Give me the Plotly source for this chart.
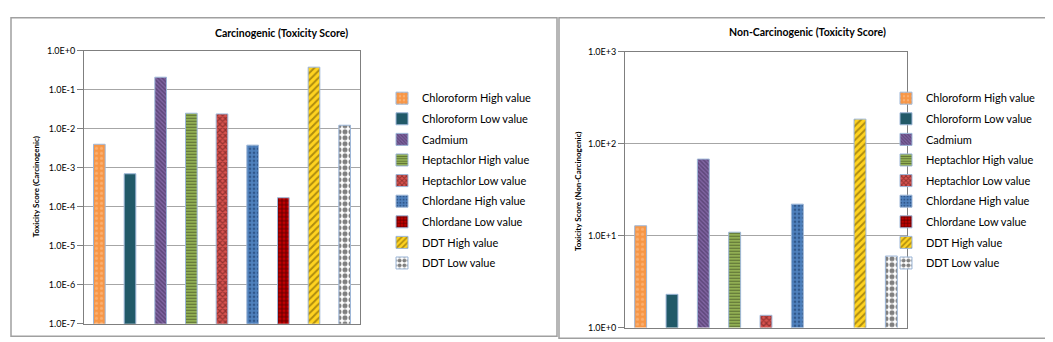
import plotly.graph_objects as go

W, H = 1053, 342

series_names = [
    "Chloroform High value", "Chloroform Low value", "Cadmium",
    "Heptachlor High value", "Heptachlor Low value", "Chlordane High value",
    "Chlordane Low value", "DDT High value", "DDT Low value",
]
carcinogenic = [4.0e-3, 7.0e-4, 0.21, 0.025, 0.024, 3.8e-3, 1.7e-4, 0.38, 0.0123]
non_carcinogenic = [12.8, 2.3, 68, 10.9, 1.36, 22, None, 185, 6.0]

carc_tick_vals = [1e-7, 1e-6, 1e-5, 1e-4, 1e-3, 1e-2, 1e-1, 1e0]
carc_tick_text = ["1.0E-7", "1.0E-6", "1.0E-5", "1.0E-4", "1.0E-3", "1.0E-2", "1.0E-1", "1.0E+0"]
noncarc_tick_vals = [1e0, 1e1, 1e2, 1e3]
noncarc_tick_text = ["1.0E+0", "1.0E+1", "1.0E+2", "1.0E+3"]

titles = ["Carcinogenic (Toxicity Score)", "Non-Carcinogenic (Toxicity Score)"]
y_titles = ["Toxicity Score (Carcinogenic)", "Toxicity Score (Non-Carcinogenic)"]

# style per series: (bgcolor, fgcolor, shape, size, solidity)
styles = [
    ("#F79646", "#FCC79B", ".", 5, 0.3),
    ("#215968", "#215968", "", 8, 0.3),
    ("#8064A2", "#3B2A52", "\\", 3, 0.5),
    ("#9BBB59", "#1E2410", "-", 3, 0.45),
    ("#D9534F", "#4A1010", "x", 4, 0.5),
    ("#4F81BD", "#14305A", ".", 4, 0.35),
    ("#C00000", "#000000", "+", 4, 0.4),
    ("#FFD320", "#5E4500", "/", 5, 0.4),
    ("#FFFFFF", "#000000", ".", 6, 0.55),
]

FONT = "Lato"
fig = go.Figure()

for panel, (vals, xa, ya, leg) in enumerate([
    (carcinogenic, "x", "y", "legend"),
    (non_carcinogenic, "x2", "y2", "legend2"),
]):
    for i, name in enumerate(series_names):
        bg, fg, shape, size, sol = styles[i]
        fig.add_trace(go.Bar(
            x=[i], y=[vals[i]], name=name, width=0.38,
            xaxis=xa, yaxis=ya, legend=leg, legendgroup=f"{panel}-{i}",
            marker=dict(
                color=bg,
                line=dict(color="#9DB7D8", width=1),
                pattern=dict(shape=shape, fgcolor=fg, bgcolor=bg, size=size,
                             solidity=sol, fillmode="overlay"),
            ),
            hovertemplate=name + ": %{y}<extra></extra>",
        ))

def px(x):
    return x / W

def py(y):
    return 1 - y / H

axis_common = dict(
    showline=True, linecolor="#7F7F7F", linewidth=1, mirror=True,
)

fig.update_layout(
    width=W, height=H, autosize=False,
    margin=dict(l=0, r=0, t=0, b=0),
    paper_bgcolor="white", plot_bgcolor="white",
    barmode="overlay",
    font=dict(family=FONT, size=11, color="#000000"),
    xaxis=dict(domain=[px(76), px(352)], anchor="y", range=[-0.5, 8.5],
               showticklabels=False, ticks="", showgrid=False, zeroline=False,
               **axis_common),
    yaxis=dict(domain=[py(320), py(38)], anchor="x", type="log", range=[-7, 0],
               tickvals=carc_tick_vals, ticktext=carc_tick_text,
               tickfont=dict(size=9), ticks="outside", ticklen=6, tickcolor="#7F7F7F",
               showgrid=True, gridcolor="#A6A6A6", gridwidth=1,
               **axis_common),
    xaxis2=dict(domain=[px(617), px(899)], anchor="y2", range=[-0.5, 8.5],
                showticklabels=False, ticks="", showgrid=False, zeroline=False,
                **axis_common),
    yaxis2=dict(domain=[py(324), py(39)], anchor="x2", type="log", range=[0, 3],
                tickvals=noncarc_tick_vals, ticktext=noncarc_tick_text,
                tickfont=dict(size=9), ticks="outside", ticklen=6, tickcolor="#7F7F7F",
                showgrid=True, gridcolor="#A6A6A6", gridwidth=1,
                **axis_common),
    legend=dict(x=px(374), y=py(72), xanchor="left", yanchor="top",
                bgcolor="rgba(0,0,0,0)", font=dict(size=11, family=FONT),
                itemwidth=30, tracegroupgap=1.6, traceorder="grouped"),
    legend2=dict(x=px(878), y=py(72), xanchor="left", yanchor="top",
                 bgcolor="rgba(0,0,0,0)", font=dict(size=11, family=FONT),
                 itemwidth=30, tracegroupgap=1.6, traceorder="grouped"),
    annotations=[
        dict(text="<b>" + titles[0] + "</b>", x=px(273), y=py(20), xref="paper", yref="paper",
             showarrow=False, font=dict(size=10.5, family=FONT), xanchor="center", yanchor="middle"),
        dict(text="<b>" + titles[1] + "</b>", x=px(799), y=py(19), xref="paper", yref="paper",
             showarrow=False, font=dict(size=10.5, family=FONT), xanchor="center", yanchor="middle"),
        dict(text="<b>" + y_titles[0] + "</b>", x=px(28), y=py(179), xref="paper", yref="paper",
             showarrow=False, textangle=-90, font=dict(size=8, family=FONT),
             xanchor="center", yanchor="middle"),
        dict(text="<b>" + y_titles[1] + "</b>", x=px(570), y=py(183), xref="paper", yref="paper",
             showarrow=False, textangle=-90, font=dict(size=8, family=FONT),
             xanchor="center", yanchor="middle"),
    ],
    shapes=[
        dict(type="rect", xref="paper", yref="paper", x0=px(3), x1=px(549), y0=py(333), y1=py(4),
             line=dict(color="#A0A0A0", width=1.5)),
        dict(type="rect", xref="paper", yref="paper", x0=px(551), x1=px(1048), y0=py(335), y1=py(4),
             line=dict(color="#A0A0A0", width=1.5)),
    ],
    showlegend=True,
)

fig.write_html("out.html")
